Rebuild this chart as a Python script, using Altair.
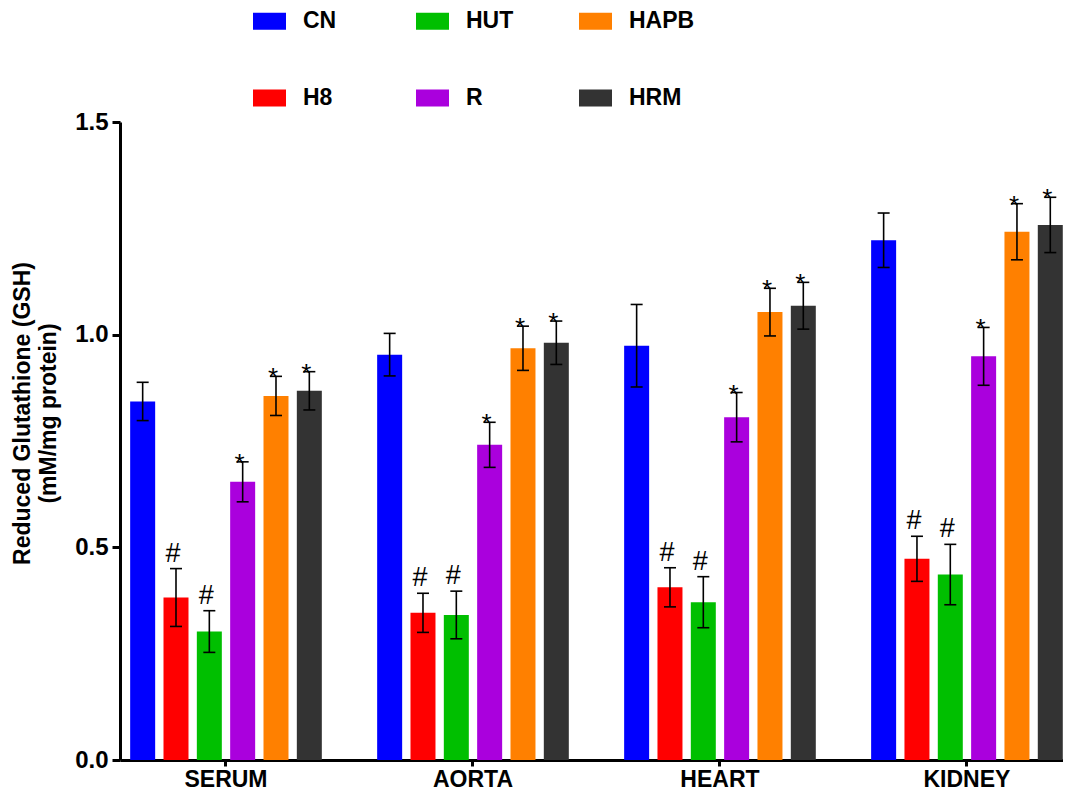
import altair as alt
import pandas as pd

organs = ["SERUM", "AORTA", "HEART", "KIDNEY"]
groups = ["CN", "H8", "HUT", "R", "HAPB", "HRM"]
legend_order = ["CN", "HUT", "HAPB", "H8", "R", "HRM"]
palette = {"CN": "#0000FF", "H8": "#FF0000", "HUT": "#00BF00",
           "R": "#AA00DD", "HAPB": "#FF8000", "HRM": "#333333"}

cn_mean = [0.843, 0.953, 0.974, 1.222]
cn_err = [0.045, 0.050, 0.097, 0.064]
h8_mean = [0.382, 0.346, 0.406, 0.473]
h8_err = [0.068, 0.046, 0.046, 0.053]
hut_mean = [0.302, 0.341, 0.371, 0.436]
hut_err = [0.049, 0.056, 0.060, 0.071]
r_mean = [0.654, 0.741, 0.806, 0.949]
r_err = [0.047, 0.053, 0.058, 0.068]
hapb_mean = [0.856, 0.968, 1.053, 1.242]
hapb_err = [0.046, 0.052, 0.056, 0.066]
hrm_mean = [0.868, 0.981, 1.068, 1.258]
hrm_err = [0.045, 0.051, 0.055, 0.065]

sig_marks = {"CN": "", "H8": "#", "HUT": "#", "R": "*", "HAPB": "*", "HRM": "*"}

series = {
    "CN": (cn_mean, cn_err),
    "H8": (h8_mean, h8_err),
    "HUT": (hut_mean, hut_err),
    "R": (r_mean, r_err),
    "HAPB": (hapb_mean, hapb_err),
    "HRM": (hrm_mean, hrm_err),
}

rows = []
for g in groups:
    means, errs = series[g]
    for o, m, e in zip(organs, means, errs):
        rows.append(dict(organ=o, group=g, mean=m, lo=m - e, hi=m + e, sig=sig_marks[g]))
df = pd.DataFrame(rows)

FONT = "Liberation Sans"

x = alt.X("organ:N", sort=organs,
          scale=alt.Scale(paddingInner=0.224, paddingOuter=0.021, align=0.98),
          axis=alt.Axis(title=None, labelAngle=0, labelFont=FONT, labelFontSize=23,
                        labelFontWeight="bold", labelColor="black", labelPadding=2,
                        tickSize=6, tickWidth=3, tickColor="black",
                        domainWidth=3, domainColor="black", grid=False))
xoff = alt.XOffset("group:N", sort=groups,
                   scale=alt.Scale(paddingInner=0.25, paddingOuter=0))
y = alt.Y("mean:Q", scale=alt.Scale(domain=[0, 1.5], nice=False),
          axis=alt.Axis(values=[0, 0.5, 1.0, 1.5], format=".1f",
                        title=["Reduced Glutathione (GSH)", "(mM/mg protein)"],
                        titleFont=FONT, titleFontSize=23, titleFontWeight="bold",
                        titleColor="black", titleAngle=270, titleAlign="center",
                        titleBaseline="top", titleX=-109, titleY=291, titleLineHeight=26,
                        labelFont=FONT, labelFontSize=24, labelFontWeight="bold",
                        labelColor="black", labelPadding=4,
                        tickSize=8, tickWidth=3, tickColor="black",
                        domainWidth=3, domainColor="black", grid=False))
color = alt.Color("group:N",
                  scale=alt.Scale(domain=legend_order,
                                  range=[palette[g] for g in legend_order]),
                  legend=alt.Legend(title=None, orient="none", legendX=133, legendY=-117.5,
                                    direction="horizontal", columns=3, gridAlign="all",
                                    columnPadding=47, rowPadding=48, padding=0,
                                    symbolType="M-1,-0.515H1V0.515H-1Z", symbolSize=1089,
                                    symbolStrokeWidth=0, symbolOpacity=1,
                                    labelFont=FONT, labelFontSize=23, labelFontWeight="bold",
                                    labelColor="black", labelOffset=17, labelLimit=200))

base = alt.Chart(df)

bars = base.mark_bar(opacity=1).encode(x=x, xOffset=xoff, y=y, color=color)

rules = base.mark_rule(color="black", strokeWidth=1.6).encode(
    x=x, xOffset=xoff, y="lo:Q", y2="hi:Q")

caps = base.transform_fold(["lo", "hi"], as_=["end", "val"]).mark_tick(
    color="black", thickness=1.6, size=12, orient="horizontal", opacity=1).encode(
    x=x, xOffset=xoff, y="val:Q")

hashes = base.transform_filter("datum.sig == '#'").mark_text(
    font=FONT, fontSize=27, baseline="alphabetic", dx=-3, dy=-7, color="black").encode(
    x=x, xOffset=xoff, y="hi:Q", text="sig:N")

stars = base.transform_filter("datum.sig == '*'").mark_text(
    font=FONT, fontSize=26, baseline="alphabetic", dx=-3, dy=10, color="black").encode(
    x=x, xOffset=xoff, y="hi:Q", text="sig:N")

chart = alt.layer(bars, rules, caps, hashes, stars).properties(
    width=943, height=638,
    padding={"left": 112, "top": 114, "right": 0, "bottom": 34},
    autosize=alt.AutoSizeParams(type="none"),
    background="white",
).configure_view(strokeWidth=0)

chart.save("out.html", embed_options={"renderer": "svg", "actions": False})
